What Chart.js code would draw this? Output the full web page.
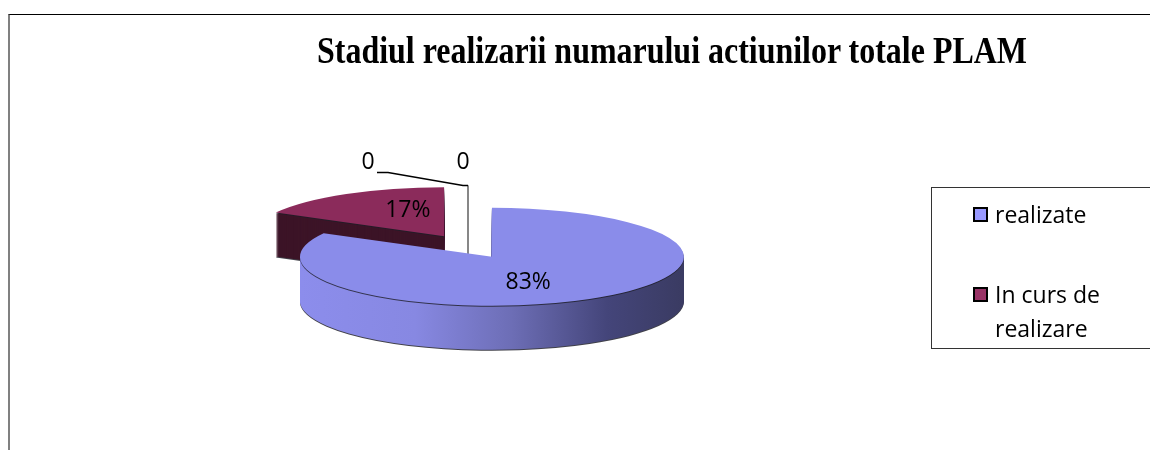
<!DOCTYPE html>
<html>
<head>
<meta charset="utf-8">
<script src="https://cdn.jsdelivr.net/npm/chart.js@4.4.1/dist/chart.umd.min.js"></script>
<style>
  html, body { margin: 0; padding: 0; background: #fff; overflow: hidden; }
  #wrap { position: relative; width: 1150px; height: 450px; overflow: hidden; }
  #frame { position: absolute; left: 8px; top: 14px; width: 1300px; height: 600px; border-top: 1px solid #000; border-left: 2px solid #808080; }
  #chart { position: absolute; left: 0; top: 0; }
  #title { position: absolute; left: 317px; top: 32px; font: bold 37px "Liberation Serif", "Times New Roman", serif; line-height: 1; white-space: nowrap; transform-origin: 0 0; color: #000; }
  #legend { position: absolute; left: 931px; top: 187px; width: 260px; height: 162px; border: 1px solid #333; border-right: none; padding-top: 9px; box-sizing: border-box; font: 23px "Open Sans", sans-serif; color: #000; }
  .item { display: flex; align-items: flex-start; margin-left: 41px; margin-bottom: 46px; line-height: 34px; }
  .box { width: 15px; height: 15px; box-sizing: border-box; border: 2.5px solid #000; margin-top: 10px; margin-right: 7px; flex: none; }
  .txt { width: 125px; }
</style>
</head>
<body>
<div id="wrap">
  <div id="frame"></div>
  <canvas id="chart" width="1150" height="450"></canvas>
  <div id="title">Stadiul realizarii numarului actiunilor totale PLAM</div>
  <div id="legend"></div>
</div>
<script>
// data
const categories = ["realizate", "In curs de realizare", "", ""]
const shares = [83, 17, 0, 0]

// styles
const faceColors = ["#8a8cea", "#8b2b5b", "#ffffff", "#ffffff"]
const legendColors = ["#9999ff", "#993366"]
const tilt = 0.255
const depth = 44
const explode = 47
const titleWidth = 710

// title fitted to the width of the original (it is a condensed serif)
const titleEl = document.getElementById('title')
titleEl.style.transform = `scaleX(${titleWidth / titleEl.getBoundingClientRect().width})`

// legend only for the named categories
const legend = document.getElementById('legend')
categories.forEach((name, i) => {
  if (!name) return
  const item = document.createElement('div')
  item.className = 'item'
  item.innerHTML = `<div class="box" style="background:${legendColors[i]}"></div><div class="txt">${name}</div>`
  legend.appendChild(item)
})

const total = shares.reduce((a, b) => a + b, 0)
const midAngle = arc => (arc.startAngle + arc.endAngle) / 2

function sideFill(ctx, arc, i) {
  if (i == 0) {
    const g = ctx.createLinearGradient(arc.x - arc.outerRadius, 0, arc.x + arc.outerRadius, 0)
    g.addColorStop(0, "#8c8dec")
    g.addColorStop(0.3, "#8788e2")
    g.addColorStop(0.55, "#6d6eb6")
    g.addColorStop(0.8, "#44457a")
    g.addColorStop(1, "#3a3b62")
    return g
  }
  return "#3c1427"
}

const pie3d = {
  id: 'pie3d',
  beforeDatasetsDraw(chart) {
    const ctx = chart.ctx
    const arcs = chart.getDatasetMeta(0).data

    //back slices first
    const order = arcs.map((a, i) => i).sort((a, b) => Math.sin(midAngle(arcs[a])) - Math.sin(midAngle(arcs[b])))

    order.forEach(i => {
      const arc = arcs[i]
      const m = midAngle(arc)
      const ex = Math.cos(m) * explode
      const ey = Math.sin(m) * explode * tilt

      if (arc.circumference === 0) {
        // empty slice: only its cut face remains, a line
        const tx = arc.x + ex + Math.cos(arc.startAngle) * arc.outerRadius
        const ty = arc.y + ey + Math.sin(arc.startAngle) * arc.outerRadius * tilt
        ctx.save()
        ctx.strokeStyle = "#808080"
        ctx.lineWidth = 1.5
        ctx.beginPath()
        ctx.moveTo(tx, ty)
        ctx.lineTo(arc.x + ex, arc.y + ey)
        ctx.lineTo(arc.x + ex, arc.y + ey + depth)
        ctx.lineTo(tx, ty + depth)
        ctx.closePath()
        ctx.stroke()
        ctx.restore()
        return
      }

      const layer = (d, color) => {
        const el = Object.create(arc)
        el.options = Object.assign({}, arc.options, { backgroundColor: color, borderWidth: 0 })
        ctx.save()
        ctx.translate(arc.x + ex, arc.y + ey + d)
        ctx.scale(1, tilt)
        ctx.translate(-arc.x, -arc.y)
        el.draw(ctx)
        ctx.restore()
      }

      layer(depth + 1, "rgba(30,30,40,0.85)")
      const side = sideFill(ctx, arc, i)
      for (let d = depth; d > 1; d--) layer(d, side)
      layer(1, "rgba(30,30,40,0.8)")
      layer(0, faceColors[i])
    })

    // value labels
    ctx.save()
    ctx.font = '23px "Open Sans"'
    ctx.fillStyle = "#000"
    ctx.textAlign = 'center'
    ctx.textBaseline = 'middle'
    let zeroCount = 0
    arcs.forEach((arc, i) => {
      const m = midAngle(arc)
      const ex = Math.cos(m) * explode
      const ey = Math.sin(m) * explode * tilt
      if (shares[i] > 0) {
        const a = m + 0.19
        const r = arc.outerRadius * 0.56
        ctx.fillText(Math.round(shares[i] / total * 100) + '%', arc.x + ex + Math.cos(a) * r, arc.y + ey + Math.sin(a) * r * tilt)
      } else {
        const px = arc.x + ex + Math.cos(arc.startAngle) * arc.outerRadius
        const py = arc.y + ey + Math.sin(arc.startAngle) * arc.outerRadius * tilt
        const shift = zeroCount == 0 ? -100 : -5
        const lx = px + shift, ly = py - 23
        ctx.fillText(String(shares[i]), lx, ly)
        if (zeroCount == 0) {
          ctx.strokeStyle = "#000"
          ctx.lineWidth = 1.5
          ctx.beginPath()
          ctx.moveTo(lx + 9, ly + 10)
          ctx.lineTo(lx + 20, ly + 10)
          ctx.lineTo(px - 5, py)
          ctx.lineTo(px, py)
          ctx.stroke()
        }
        zeroCount++
      }
    })
    ctx.restore()

    return false
  }
}

new Chart(document.getElementById('chart'), {
  type: 'pie',
  data: {
    labels: categories,
    datasets: [{
      data: shares,
      backgroundColor: faceColors,
      borderWidth: 0,
      radius: 192
    }]
  },
  options: {
    responsive: false,
    animation: false,
    events: [],
    devicePixelRatio: 1,
    layout: { padding: { left: 0, right: 214, top: 43, bottom: 0 } },
    plugins: {
      legend: { display: false },
      tooltip: { enabled: false },
      title: { display: false }
    }
  },
  plugins: [pie3d]
})
</script>
</body>
</html>
